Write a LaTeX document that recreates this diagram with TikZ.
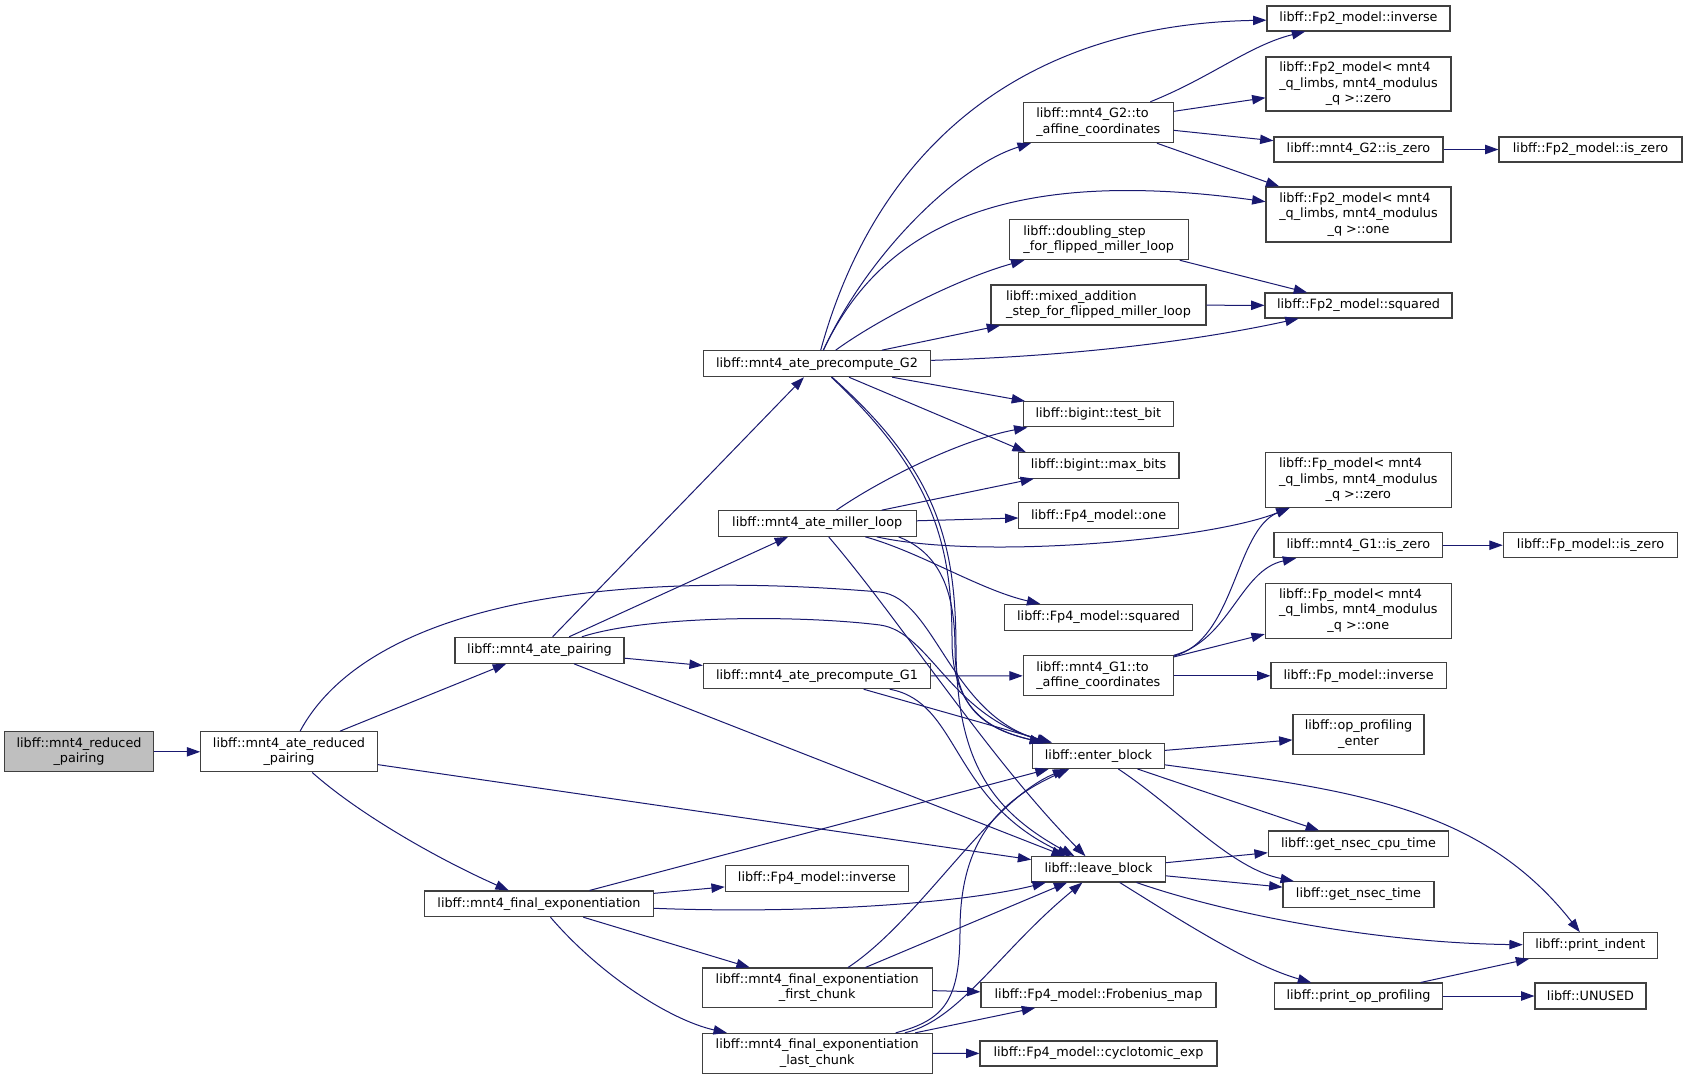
\documentclass[tikz,border=0pt]{standalone}
\usepackage{fontspec}
\setmainfont{DejaVu Sans}
\usetikzlibrary{arrows.meta,calc}
\definecolor{edgec}{HTML}{191970}
\definecolor{boxline}{HTML}{404040}
\definecolor{rootfill}{HTML}{BFBFBF}
\newcommand{\twol}[2]{\begin{tabular}{@{}l@{}}#1\\\multicolumn{1}{@{}c@{}}{#2}\end{tabular}}
\newcommand{\threel}[3]{\begin{tabular}{@{}l@{}}#1\\#2\\\multicolumn{1}{@{}c@{}}{#3}\end{tabular}}
\tikzset{
  box/.style={draw=boxline, line width=0.8pt, fill=white, inner sep=0pt, font=\fontsize{9.6}{11.6}\selectfont},
  sz/.style 2 args={minimum width=#1*0.75pt, minimum height=#2*0.75pt},
  edge/.style={draw=edgec, line width=0.75pt, -{Triangle[length=10pt,width=7pt]}},
}
\begin{document}
\begin{tikzpicture}[x=0.75pt,y=-0.75pt]
\fill[white] (0,0) rectangle (1687,1079);
\useasboundingbox (0,0) rectangle (1687,1079);
% nodes
\node[box, sz={148.6}{40.3}, fill=rootfill] (red) at (79,751.8) {\twol{libff::mnt4\_reduced}{\_pairing}};
\node[box, sz={176.6}{40.3}] (atered) at (289,751.8) {\twol{libff::mnt4\_ate\_reduced}{\_pairing}};
\node[box, sz={169}{26}] (atepair) at (539.5,650.3) {libff::mnt4\_ate\_pairing};
\node[box, sz={228.5}{25.7}] (finexp) at (539,903.8) {libff::mnt4\_final\_exponentiation};
\node[box, sz={227.4}{26}] (preGtwo) at (817,363.7) {libff::mnt4\_ate\_precompute\_G2};
\node[box, sz={197.7}{25.6}] (miller) at (817.2,523.5) {libff::mnt4\_ate\_miller\_loop};
\node[box, sz={227.4}{25.4}] (preGone) at (817,676) {libff::mnt4\_ate\_precompute\_G1};
\node[box, sz={183.4}{25.6}] (fpfourinv) at (817,878.5) {libff::Fp4\_model::inverse};
\node[box, sz={229.7}{39.7}] (first) at (817.2,987.8) {\twol{libff::mnt4\_final\_exponentiation}{\_first\_chunk}};
\node[box, sz={229.7}{39.7}] (last) at (817.2,1053.2) {\twol{libff::mnt4\_final\_exponentiation}{\_last\_chunk}};
\node[box, sz={183}{25}] (fptwoinv) at (1358.5,18.5) {libff::Fp2\_model::inverse};
\node[box, sz={150}{40.4}] (gtwoaff) at (1098.3,122.5) {\twol{libff::mnt4\_G2::to}{\_affine\_coordinates}};
\node[box, sz={185}{54}] (fptwozero) at (1358.5,84) {\threel{libff::Fp2\_model\textless{} mnt4}{\_q\_limbs, mnt4\_modulus}{\_q \textgreater::zero}};
\node[box, sz={169}{25}] (gtwoisz) at (1358.5,149.5) {libff::mnt4\_G2::is\_zero};
\node[box, sz={183}{25}] (fptwoisz) at (1590.5,149.5) {libff::Fp2\_model::is\_zero};
\node[box, sz={185}{55}] (fptwoone) at (1358.5,214.5) {\threel{libff::Fp2\_model\textless{} mnt4}{\_q\_limbs, mnt4\_modulus}{\_q \textgreater::one}};
\node[box, sz={179.3}{40}] (dbl) at (1098.7,239.7) {\twol{libff::doubling\_step}{\_for\_flipped\_miller\_loop}};
\node[box, sz={215}{40}] (mixed) at (1098.5,305) {\twol{libff::mixed\_addition}{\_step\_for\_flipped\_miller\_loop}};
\node[box, sz={187}{25}] (fptwosq) at (1358.5,305.5) {libff::Fp2\_model::squared};
\node[box, sz={150}{25.3}] (testbit) at (1098.3,414.3) {libff::bigint::test\_bit};
\node[box, sz={160.7}{25.7}] (maxbits) at (1098.6,465.3) {libff::bigint::max\_bits};
\node[box, sz={159.3}{25.7}] (fpfourone) at (1098.6,515.8) {libff::Fp4\_model::one};
\node[box, sz={187.3}{25.7}] (fpfoursq) at (1098.6,617.2) {libff::Fp4\_model::squared};
\node[box, sz={186}{54.6}] (fpzero) at (1358.3,480) {\threel{libff::Fp\_model\textless{} mnt4}{\_q\_limbs, mnt4\_modulus}{\_q \textgreater::zero}};
\node[box, sz={168.7}{25}] (goneisz) at (1358.3,545.2) {libff::mnt4\_G1::is\_zero};
\node[box, sz={174.4}{25}] (fpisz) at (1590.5,545.2) {libff::Fp\_model::is\_zero};
\node[box, sz={186}{54.7}] (fpone) at (1358.3,610.7) {\threel{libff::Fp\_model\textless{} mnt4}{\_q\_limbs, mnt4\_modulus}{\_q \textgreater::one}};
\node[box, sz={150}{40.3}] (goneaff) at (1098.3,675.8) {\twol{libff::mnt4\_G1::to}{\_affine\_coordinates}};
\node[box, sz={175.3}{25.7}] (fpinv) at (1358.6,675.8) {libff::Fp\_model::inverse};
\node[box, sz={131.6}{25.3}] (enter) at (1098.5,755.8) {libff::enter\_block};
\node[box, sz={131}{39.6}] (openter) at (1358.5,734.5) {\twol{libff::op\_profiling}{\_enter}};
\node[box, sz={133.6}{25.3}] (leave) at (1098.5,869.3) {libff::leave\_block};
\node[box, sz={180.4}{25.7}] (nseccpu) at (1358.5,843.8) {libff::get\_nsec\_cpu\_time};
\node[box, sz={151}{25.6}] (nsec) at (1358.5,894.5) {libff::get\_nsec\_time};
\node[box, sz={134}{25.6}] (printind) at (1590.3,945.5) {libff::print\_indent};
\node[box, sz={168.4}{26}] (printop) at (1358.5,996) {libff::print\_op\_profiling};
\node[box, sz={111}{26}] (unused) at (1590.5,996) {libff::UNUSED};
\node[box, sz={235}{25.3}] (frob) at (1098.5,994.7) {libff::Fp4\_model::Frobenius\_map};
\node[box, sz={237}{25}] (cyclo) at (1098.5,1053.5) {libff::Fp4\_model::cyclotomic\_exp};
% edges
\begin{scope}[every path/.style={edge}]
\draw (red) -- (atered);
\draw (atered) -- (atepair);
\draw (atered) .. controls (360,815) and (440,860) .. (finexp);
\draw (atered) .. controls (360,620) and (560,565) .. (880,592) .. controls (935,598) and (950,715) .. (enter);
\draw (atered) -- (leave);
\draw (atepair) -- (preGtwo);
\draw (atepair) -- (miller);
\draw (atepair) -- (preGone);
\draw (atepair) .. controls (650,615) and (800,615) .. (880,625) .. controls (930,632) and (950,715) .. (enter);
\draw (atepair) -- (leave);
\draw (preGtwo) .. controls (870,170) and (1000,25) .. (fptwoinv);
\draw (preGtwo) .. controls (870,250) and (960,165) .. (gtwoaff);
\draw (preGtwo) .. controls (880,230) and (1000,165) .. (fptwoone);
\draw (preGtwo) .. controls (880,318) and (960,278) .. (dbl);
\draw (preGtwo) -- (mixed);
\draw (preGtwo) .. controls (1080,356) and (1200,340) .. (fptwosq);
\draw (preGtwo) -- (testbit);
\draw (preGtwo) -- ($(maxbits.north west)+(8,0)$);
\draw (preGtwo) .. controls (930,470) and (952,540) .. (952,640) .. controls (952,710) and (990,730) .. (enter);
\draw (preGtwo) .. controls (936,470) and (956,540) .. (956,650) .. controls (957,760) and (990,810) .. (leave);
\draw (miller) .. controls (880,480) and (960,440) .. (testbit);
\draw (miller) -- (maxbits);
\draw (miller) -- (fpfourone);
\draw (miller) .. controls (980,560) and (1210,540) .. (fpzero);
\draw (miller) .. controls (920,552) and (980,590) .. (fpfoursq);
\draw ($(miller.south east)+(-18,0)$) .. controls (945,555) and (955,600) .. (955,650) .. controls (955,712) and (990,730) .. (enter);
\draw (miller) .. controls (900,620) and (990,760) .. (leave);
\draw (preGone) -- (goneaff);
\draw (preGone) -- (enter);
\draw (preGone) .. controls (960,702) and (950,800) .. (leave);
\draw (finexp) -- (enter);
\draw (finexp) -- (fpfourinv);
\draw (finexp) .. controls (800,914) and (960,904) .. (leave);
\draw (finexp) -- (first);
\draw (finexp) .. controls (600,975) and (670,1020) .. (last);
\draw (first) .. controls (920,920) and (990,800) .. (enter);
\draw (first) -- (leave);
\draw (first) -- (frob);
\draw (last) .. controls (945,1020) and (960,1000) .. (960,930) .. controls (960,840) and (1000,800) .. (enter);
\draw (last) .. controls (960,1020) and (1000,950) .. (leave);
\draw (last) -- (frob);
\draw (last) -- (cyclo);
\draw (gtwoaff) .. controls (1210,78) and (1250,45) .. (fptwoinv);
\draw (gtwoaff) -- (fptwozero);
\draw (gtwoaff) -- (gtwoisz);
\draw (gtwoaff) -- (fptwoone);
\draw (gtwoisz) -- (fptwoisz);
\draw (dbl) -- (fptwosq);
\draw (mixed) -- (fptwosq);
\draw (goneaff) .. controls (1235,640) and (1235,530) .. (fpzero);
\draw (goneaff) .. controls (1230,640) and (1240,570) .. (goneisz);
\draw (goneaff) -- (fpone);
\draw (goneaff) -- (fpinv);
\draw (goneisz) -- (fpisz);
\draw (enter) -- (openter);
\draw (enter) -- (nseccpu);
\draw (enter) .. controls (1180,810) and (1230,868) .. (nsec);
\draw (enter) .. controls (1350,790) and (1480,805) .. (printind);
\draw (leave) -- (nseccpu);
\draw (leave) -- (nsec);
\draw (leave) .. controls (1230,915) and (1380,943) .. (printind);
\draw (leave) .. controls (1180,920) and (1250,965) .. (printop);
\draw (printop) -- (printind);
\draw (printop) -- (unused);
\end{scope}
\end{tikzpicture}
\end{document}
